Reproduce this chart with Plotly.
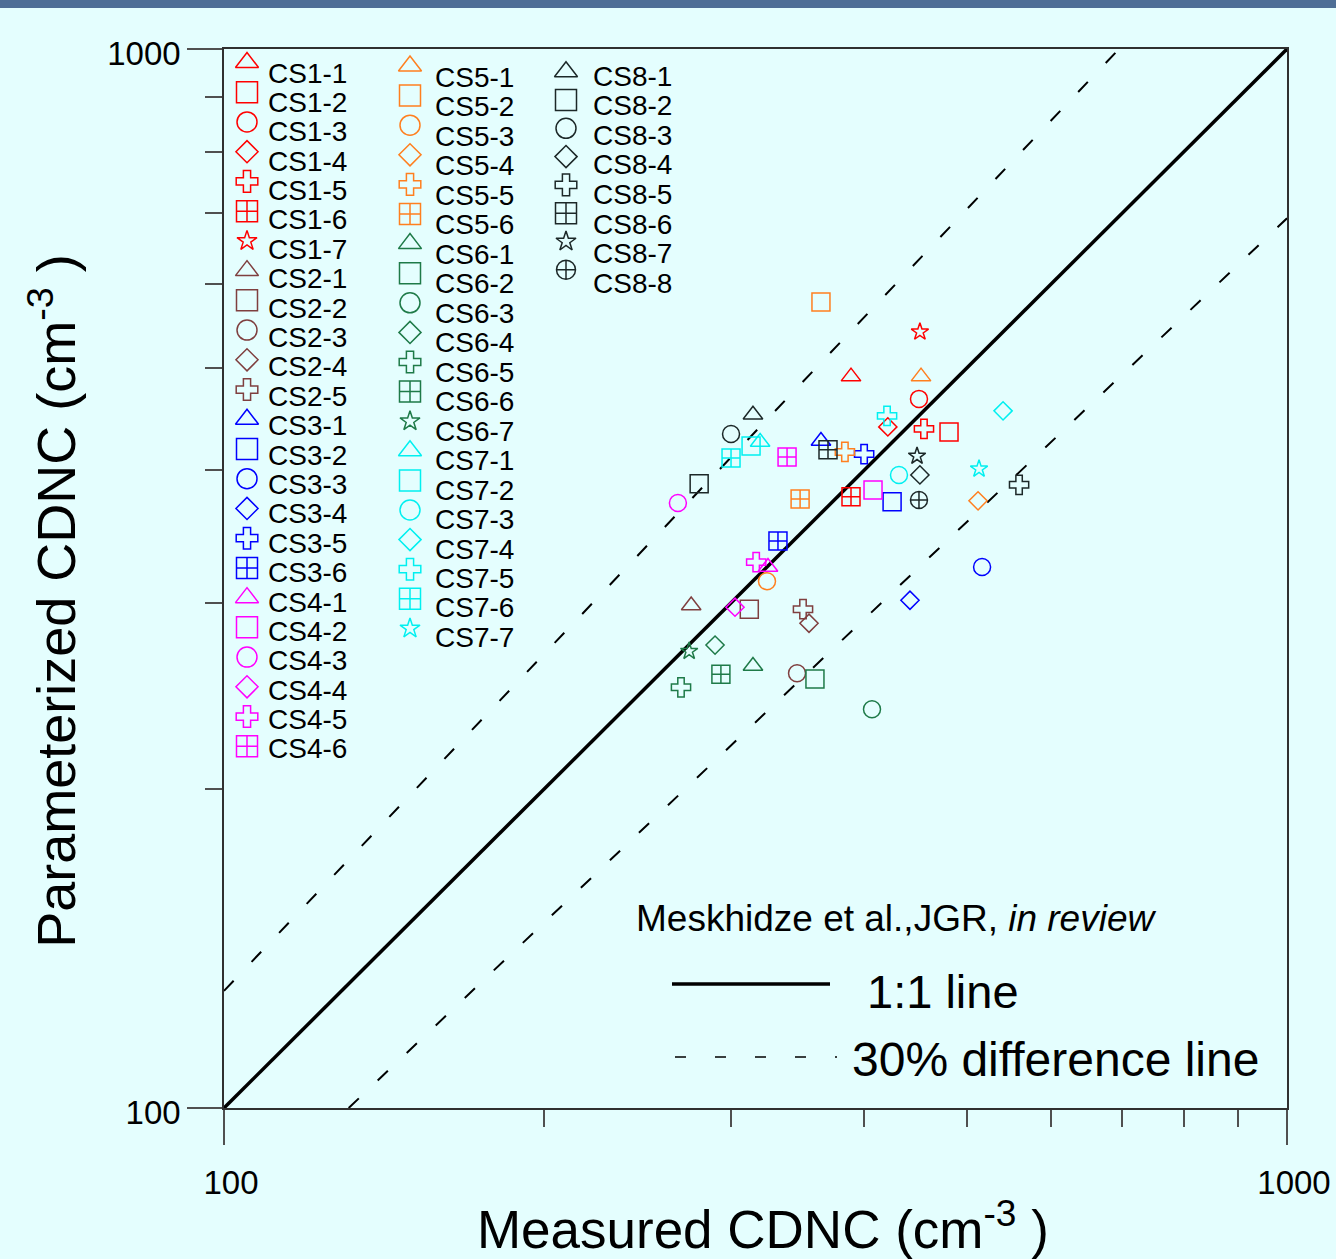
import plotly.graph_objects as go

# ---------------- data ----------------
names = [
    "CS1-1", "CS1-2", "CS1-3", "CS1-4", "CS1-5", "CS1-6", "CS1-7",
    "CS2-1", "CS2-2", "CS2-3", "CS2-4", "CS2-5",
    "CS3-1", "CS3-2", "CS3-3", "CS3-4", "CS3-5", "CS3-6",
    "CS4-1", "CS4-2", "CS4-3", "CS4-4", "CS4-5", "CS4-6",
    "CS5-1", "CS5-2", "CS5-3", "CS5-4", "CS5-5", "CS5-6",
    "CS6-1", "CS6-2", "CS6-3", "CS6-4", "CS6-5", "CS6-6", "CS6-7",
    "CS7-1", "CS7-2", "CS7-3", "CS7-4", "CS7-5", "CS7-6", "CS7-7",
    "CS8-1", "CS8-2", "CS8-3", "CS8-4", "CS8-5", "CS8-6", "CS8-7", "CS8-8",
]
measured = [
    388.9, 480.9, 450.6, 421.2, 455.5, 388.9, 451.5,
    275.1, 312.0, 346.0, 355.1, 350.5,
    364.4, 425.1, 516.6, 441.9, 400.1, 332.0,
    324.9, 407.9, 267.3, 302.5, 316.7, 338.6,
    452.6, 364.4, 324.2, 512.1, 383.8, 348.3,
    314.5, 359.7, 407.0, 289.7, 269.1, 293.4, 273.9,
    319.4, 313.2, 431.5, 540.6, 420.5, 299.9, 513.2,
    314.5, 279.9, 299.9, 451.5, 559.7, 370.0, 448.7, 450.6,
]
parameterized = [
    490.5, 434.9, 467.3, 439.7, 437.8, 377.7, 540.6,
    298.2, 295.8, 257.4, 286.9, 295.8,
    426.5, 373.6, 324.2, 301.6, 414.5, 343.0,
    324.2, 383.4, 372.7, 297.1, 327.7, 411.8,
    490.5, 577.0, 314.4, 374.4, 416.4, 376.0,
    261.4, 254.1, 238.0, 273.6, 249.6, 256.8, 270.0,
    425.5, 421.8, 396.1, 455.3, 450.4, 410.9, 401.3,
    451.4, 388.5, 433.0, 396.1, 387.7, 418.3, 412.7, 375.1,
]

one_to_one_x = [100, 1000]
one_to_one_y = [100, 1000]
upper_diff_x = [100, 695]
upper_diff_y = [129, 1000]
lower_diff_x = [131, 1000]
lower_diff_y = [100, 692]

major_tick_vals = [100, 1000]
major_tick_text = ["100", "1000"]
minor_tick_vals = [200, 300, 400, 500, 600, 700, 800, 900]

legend_columns = [names[0:24], names[24:44], names[44:52]]

# ---------------- styles ----------------
FONT = "Liberation Sans, Arial, Helvetica, sans-serif"
BG = "#E4FEFE"
campaign_colors = {1: "#FF0000", 2: "#7F3F3F", 3: "#0000FF", 4: "#FF00FF",
                   5: "#FF7F1F", 6: "#1E7A48", 7: "#00F0F0", 8: "#1C2828"}
symbols = {1: "triangle-up-open", 2: "square-open", 3: "circle-open",
           4: "diamond-open", 5: "cross-open", 6: "square-cross-open",
           7: "star-open", 8: "circle-cross-open"}
plot_sizes = {1: 17, 2: 18, 3: 17, 4: 14, 5: 16, 6: 18, 7: 13, 8: 17}
legend_sizes = {1: 20, 2: 21, 3: 20, 4: 17, 5: 18, 6: 21, 7: 15, 8: 19}

PL, PR, PT, PB = 224, 1287, 49, 1108   # plot area in page pixels

fig = go.Figure()

# reference lines
fig.add_trace(go.Scatter(x=one_to_one_x, y=one_to_one_y, mode="lines",
                         line=dict(color="black", width=3.5),
                         showlegend=False, hoverinfo="skip"))
for lx, ly in [(upper_diff_x, upper_diff_y), (lower_diff_x, lower_diff_y)]:
    fig.add_trace(go.Scatter(x=lx, y=ly, mode="lines",
                             line=dict(color="black", width=2, dash="14px,26px"),
                             showlegend=False, hoverinfo="skip"))

# data points
for i, nm in enumerate(names):
    camp = int(nm[2])
    idx = int(nm.split("-")[1])
    fig.add_trace(go.Scatter(
        x=[measured[i]], y=[parameterized[i]], mode="markers", name=nm,
        marker=dict(symbol=symbols[idx], size=plot_sizes[idx],
                    color=campaign_colors[camp], line=dict(width=1.5)),
        showlegend=False))

# manual 3-column legend drawn on an overlay pixel-unit axis
annotations = []
col_cfg = [  # marker x, text x, marker y0, marker step, text y0, text step
    (247, 266, 62.5, 29.73, 73.0, 29.39),
    (410, 433, 66.0, 29.6, 77.5, 29.47),
    (566, 591, 71.7, 28.3, 76.0, 29.6),
]
for col, (mx, tx, my0, mstep, ty0, tstep) in zip(legend_columns, col_cfg):
    for r, nm in enumerate(col):
        camp = int(nm[2])
        idx = int(nm.split("-")[1])
        fig.add_trace(go.Scatter(
            x=[mx], y=[my0 + r * mstep], xaxis="x2", yaxis="y2", mode="markers",
            marker=dict(symbol=symbols[idx], size=legend_sizes[idx],
                        color=campaign_colors[camp], line=dict(width=1.5)),
            showlegend=False, hoverinfo="skip", cliponaxis=False))
        annotations.append(dict(x=tx, y=ty0 + r * tstep, xref="x2", yref="y2",
                                text=nm, showarrow=False, xanchor="left",
                                yanchor="middle",
                                font=dict(size=28, color="black", family=FONT)))

# key box in lower right
fig.add_trace(go.Scatter(x=[672, 830], y=[984, 984], xaxis="x2", yaxis="y2",
                         mode="lines", line=dict(color="black", width=3.5),
                         showlegend=False, hoverinfo="skip"))
fig.add_trace(go.Scatter(x=[675, 837], y=[1057, 1057], xaxis="x2", yaxis="y2",
                         mode="lines",
                         line=dict(color="black", width=1.5, dash="11px,29px"),
                         showlegend=False, hoverinfo="skip"))
annotations += [
    dict(x=634, y=918, xref="x2", yref="y2", showarrow=False, xanchor="left",
         yanchor="middle", text="Meskhidze et al.,JGR, <i>in review</i>",
         font=dict(size=37, color="black", family=FONT)),
    dict(x=865, y=991, xref="x2", yref="y2", showarrow=False, xanchor="left",
         yanchor="middle", text="1:1 line",
         font=dict(size=47, color="black", family=FONT)),
    dict(x=850, y=1059, xref="x2", yref="y2", showarrow=False, xanchor="left",
         yanchor="middle", text="30% difference line",
         font=dict(size=48, color="black", family=FONT)),
]

axis_common = dict(
    type="log", range=[2, 3], tickmode="array", tickvals=major_tick_vals,
    ticktext=major_tick_text, ticks="outside", ticklen=35, tickwidth=1.5,
    tickcolor="#505050", showline=True, linecolor="#303030", linewidth=1.5,
    mirror=True, showgrid=False, zeroline=False, automargin=False,
    tickfont=dict(size=33, color="black", family=FONT),
    minor=dict(tickmode="array", tickvals=minor_tick_vals, ticks="outside",
               ticklen=17, tickwidth=1.5, tickcolor="#505050", showgrid=False),
)

fig.update_layout(
    width=1336, height=1259,
    margin=dict(l=PL, r=1336 - PR, t=PT, b=1259 - PB, pad=0, autoexpand=False),
    paper_bgcolor=BG, plot_bgcolor=BG,
    font=dict(family=FONT, color="black"),
    showlegend=False,
    xaxis=dict(**axis_common, ticklabelstandoff=10, ticklabelshift=7,
               title=dict(text="&nbsp;Measured CDNC (cm<sup>-3</sup> )",
                          font=dict(size=53, color="black", family=FONT),
                          standoff=14)),
    yaxis=dict(**axis_common, ticklabelstandoff=0, ticklabelshift=4,
               title=dict(text="Parameterized CDNC (cm<sup>-3</sup> )&nbsp;&nbsp;&nbsp;",
                          font=dict(size=54, color="black", family=FONT),
                          standoff=14)),
    xaxis2=dict(overlaying="x", range=[PL, PR], visible=False, autorange=False),
    yaxis2=dict(overlaying="y", range=[PB, PT], visible=False, autorange=False),
    annotations=annotations,
    shapes=[dict(type="rect", xref="paper", yref="paper", x0=-1, x1=2,
                 y0=1 + (PT - 8) / (PB - PT), y1=1.2,
                 fillcolor="#4E6E96", line=dict(width=0), layer="above")],
)

fig.write_html("out.html")
